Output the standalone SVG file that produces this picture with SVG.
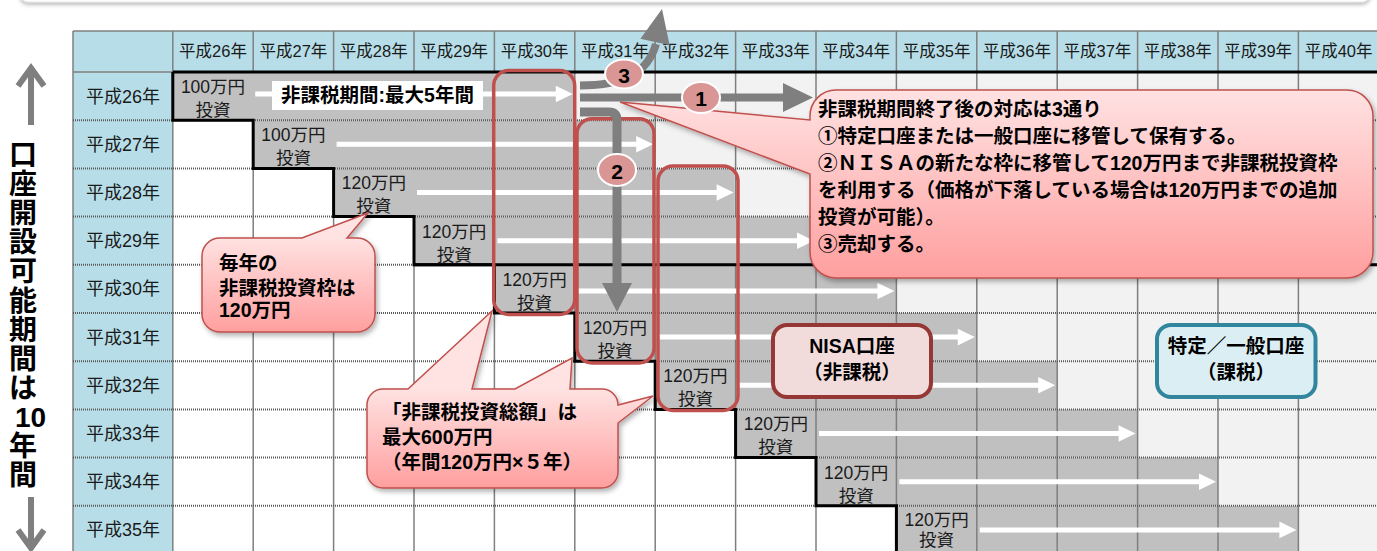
<svg xmlns="http://www.w3.org/2000/svg" width="1377" height="551" viewBox="0 0 1377 551">
<defs>
<style>
text{font-family:'Liberation Sans','Noto Sans CJK JP',sans-serif;fill:#1a1a1a}
.h{font-size:16.5px;text-anchor:middle}
.r{font-size:18px;text-anchor:middle}
.v{font-size:17.5px;text-anchor:middle}
.b{font-weight:bold;font-size:19.5px;fill:#000}
.c{text-anchor:middle}
.vl{font-weight:bold;font-size:28px;fill:#000;text-anchor:middle;dominant-baseline:central}
.n{font-weight:bold;font-size:21px;fill:#000;text-anchor:middle;dominant-baseline:central}
.vg{stroke:#7f7f7f;stroke-width:1.5}
.dt{stroke:#5a5a5a;stroke-width:2;stroke-dasharray:1 1}
.wa{fill:#fff}
.gy{fill:#c0c0c0}
.lt{fill:#f2f2f2}
.rb{fill:none;stroke:#c0504d;stroke-width:3.5}
.co{stroke:#c0504d;stroke-width:1.5}
.ga{fill:#7f7f7f}
.ci{fill:#d99694;stroke:#fff;stroke-width:2}
</style>
<filter id="ds" x="-10%" y="-10%" width="130%" height="140%"><feDropShadow dx="2" dy="3" stdDeviation="2.5" flood-color="#000" flood-opacity="0.3"/></filter>
<filter id="ts" x="-5%" y="-50%" width="110%" height="250%"><feDropShadow dx="0" dy="2" stdDeviation="2" flood-color="#000" flood-opacity="0.3"/></filter>
<linearGradient id="g1" gradientUnits="userSpaceOnUse" x1="0" y1="90" x2="0" y2="278"><stop offset="0" stop-color="#ffe2e2"/><stop offset="1" stop-color="#ff9f9f"/></linearGradient>
<linearGradient id="g2" gradientUnits="userSpaceOnUse" x1="0" y1="238" x2="0" y2="332"><stop offset="0" stop-color="#ffe2e2"/><stop offset="1" stop-color="#ff9f9f"/></linearGradient>
<linearGradient id="g3" gradientUnits="userSpaceOnUse" x1="0" y1="389" x2="0" y2="488"><stop offset="0" stop-color="#ffe2e2"/><stop offset="1" stop-color="#ff9f9f"/></linearGradient>
</defs>
<rect width="1377" height="551" fill="#fff"/>
<rect x="20" y="-40" width="1350" height="42" rx="8" fill="#fff" stroke="#e2e2e2" filter="url(#ts)"/>

<g id="table">
<rect x="73" y="72" width="1306" height="482" fill="#fff"/>
<rect x="73" y="31" width="1306" height="41" fill="#b7dee8"/>
<rect x="73" y="72" width="99.8" height="482" fill="#b7dee8"/>
<rect class="lt" x="574.8" y="72" width="804" height="48.2"/>
<rect class="lt" x="655.2" y="120.2" width="723.6" height="48.2"/>
<rect class="lt" x="735.6" y="168.4" width="643.2" height="48.2"/>
<rect class="lt" x="816" y="216.6" width="562.8" height="48.2"/>
<rect class="lt" x="896.4" y="264.8" width="482.4" height="48.2"/>
<rect class="lt" x="976.8" y="313" width="402" height="48.2"/>
<rect class="lt" x="1057.2" y="361.2" width="321.6" height="48.2"/>
<rect class="lt" x="1137.6" y="409.4" width="241.2" height="48.2"/>
<rect class="lt" x="1218" y="457.6" width="160.8" height="48.2"/>
<rect class="lt" x="1298.4" y="505.8" width="80.4" height="48.2"/>
<rect class="gy" x="494.4" y="264.8" width="402" height="48.2"/>
<rect class="gy" x="574.8" y="313" width="402" height="48.2"/>
<rect class="gy" x="655.2" y="361.2" width="402" height="48.2"/>
<rect class="gy" x="735.6" y="409.4" width="402" height="48.2"/>
<rect class="gy" x="816" y="457.6" width="402" height="48.2"/>
<rect class="gy" x="896.4" y="505.8" width="402" height="48.2"/>
<g class="vg">
<line x1="73" y1="31" x2="73" y2="551"/>
<line x1="172.8" y1="31" x2="172.8" y2="551"/>
<line x1="253.2" y1="31" x2="253.2" y2="551"/>
<line x1="333.6" y1="31" x2="333.6" y2="551"/>
<line x1="414" y1="31" x2="414" y2="551"/>
<line x1="494.4" y1="31" x2="494.4" y2="551"/>
<line x1="574.8" y1="31" x2="574.8" y2="551"/>
<line x1="655.2" y1="31" x2="655.2" y2="551"/>
<line x1="735.6" y1="31" x2="735.6" y2="551"/>
<line x1="816" y1="31" x2="816" y2="551"/>
<line x1="896.4" y1="31" x2="896.4" y2="551"/>
<line x1="976.8" y1="31" x2="976.8" y2="551"/>
<line x1="1057.2" y1="31" x2="1057.2" y2="551"/>
<line x1="1137.6" y1="31" x2="1137.6" y2="551"/>
<line x1="1218" y1="31" x2="1218" y2="551"/>
<line x1="1298.4" y1="31" x2="1298.4" y2="551"/>
<line x1="73" y1="31" x2="1377" y2="31"/>
<line x1="73" y1="72" x2="172.8" y2="72"/>
</g>
<rect class="gy" x="172.8" y="72" width="401.2" height="48.2"/>
<rect class="gy" x="253.2" y="120.2" width="401.2" height="48.2"/>
<rect class="gy" x="333.6" y="168.4" width="401.2" height="48.2"/>
<rect class="gy" x="414" y="216.6" width="401.2" height="48.2"/>
<g class="dt">
<line x1="73" y1="120.2" x2="1377" y2="120.2"/>
<line x1="73" y1="168.4" x2="1377" y2="168.4"/>
<line x1="73" y1="216.6" x2="1377" y2="216.6"/>
<line x1="73" y1="264.8" x2="1377" y2="264.8"/>
<line x1="73" y1="313" x2="1377" y2="313"/>
<line x1="73" y1="361.2" x2="1377" y2="361.2"/>
<line x1="73" y1="409.4" x2="1377" y2="409.4"/>
<line x1="73" y1="457.6" x2="1377" y2="457.6"/>
<line x1="73" y1="505.8" x2="1377" y2="505.8"/>
</g>
<g stroke="#000" stroke-width="3" fill="none">
<line x1="172.8" y1="72" x2="1377" y2="72"/>
<line x1="414" y1="264.8" x2="1377" y2="264.8"/>
<path d="M172.8,72 V120.2 H253.2 V168.4 H333.6 V216.6 H414 V264.8 H494.4 V313 H574.8 V361.2 H655.2 V409.4 H735.6 V457.6 H816 V505.8 H896.4 V554"/>
</g>
<g id="header">
<text class="h" x="213" y="57">平成26年</text>
<text class="h" x="293.4" y="57">平成27年</text>
<text class="h" x="373.8" y="57">平成28年</text>
<text class="h" x="454.2" y="57">平成29年</text>
<text class="h" x="534.6" y="57">平成30年</text>
<text class="h" x="615" y="57">平成31年</text>
<text class="h" x="695.4" y="57">平成32年</text>
<text class="h" x="775.8" y="57">平成33年</text>
<text class="h" x="856.2" y="57">平成34年</text>
<text class="h" x="936.6" y="57">平成35年</text>
<text class="h" x="1017" y="57">平成36年</text>
<text class="h" x="1097.4" y="57">平成37年</text>
<text class="h" x="1177.8" y="57">平成38年</text>
<text class="h" x="1258.2" y="57">平成39年</text>
<text class="h" x="1338.6" y="57">平成40年</text>
</g>
<g id="rowlabels">
<text class="r" x="123" y="102.6">平成26年</text>
<text class="r" x="123" y="150.8">平成27年</text>
<text class="r" x="123" y="199">平成28年</text>
<text class="r" x="123" y="247.2">平成29年</text>
<text class="r" x="123" y="295.4">平成30年</text>
<text class="r" x="123" y="343.6">平成31年</text>
<text class="r" x="123" y="391.8">平成32年</text>
<text class="r" x="123" y="440">平成33年</text>
<text class="r" x="123" y="488.2">平成34年</text>
<text class="r" x="123" y="536.4">平成35年</text>
</g>
</g>

<g id="investments">
<text class="v" x="213" y="93">100万円</text><text class="v" x="213" y="116">投資</text>
<text class="v" x="293.4" y="141.2">100万円</text><text class="v" x="293.4" y="164.2">投資</text>
<text class="v" x="373.8" y="189.4">120万円</text><text class="v" x="373.8" y="212.4">投資</text>
<text class="v" x="454.2" y="237.6">120万円</text><text class="v" x="454.2" y="260.6">投資</text>
<text class="v" x="534.6" y="285.8">120万円</text><text class="v" x="534.6" y="308.8">投資</text>
<text class="v" x="615" y="334">120万円</text><text class="v" x="615" y="357">投資</text>
<text class="v" x="695.4" y="382.2">120万円</text><text class="v" x="695.4" y="405.2">投資</text>
<text class="v" x="775.8" y="430.4">120万円</text><text class="v" x="775.8" y="453.4">投資</text>
<text class="v" x="856.2" y="478.6">120万円</text><text class="v" x="856.2" y="501.6">投資</text>
<text class="v" x="936.6" y="525.5">120万円</text><text class="v" x="936.6" y="545.5">投資</text>
</g>

<g id="connectors">
<g class="wa">
<path d="M255.2,91.5 H555.8 V85.7 L572.8,94 L555.8,102.3 V96.5 H255.2 Z"/>
<path d="M336.6,141.8 H636.2 V136 L653.2,144.3 L636.2,152.6 V146.8 H336.6 Z"/>
<path d="M417,190 H716.6 V184.2 L733.6,192.5 L716.6,200.8 V195 H417 Z"/>
<path d="M497.4,238.2 H797 V232.4 L814,240.7 L797,249 V243.2 H497.4 Z"/>
<path d="M577.8,288.5 H877.4 V282.7 L894.4,291 L877.4,299.3 V293.5 H577.8 Z"/>
<path d="M658.2,334.6 H957.8 V328.8 L974.8,337.1 L957.8,345.4 V339.6 H658.2 Z"/>
<path d="M738.6,382.8 H1038.2 V377 L1055.2,385.3 L1038.2,393.6 V387.8 H738.6 Z"/>
<path d="M819,431 H1118.6 V425.2 L1135.6,433.5 L1118.6,441.8 V436 H819 Z"/>
<path d="M899.4,479.2 H1199 V473.4 L1216,481.7 L1199,490 V484.2 H899.4 Z"/>
<path d="M979.8,527.4 H1279.4 V521.6 L1296.4,529.9 L1279.4,538.2 V532.4 H979.8 Z"/>
</g>
</g>

<g id="period-label">
<rect x="272" y="81" width="211" height="29" fill="#fff"/>
<text class="b c" x="377.5" y="102">非課税期間:最大5年間</text>
</g>

<g id="nisa-frames">
<rect id="frame-h30" class="rb" x="493.7" y="70.5" width="81" height="244" rx="15"/>
<rect id="frame-h31" class="rb" x="577" y="118.7" width="77" height="244.3" rx="15"/>
<rect id="frame-h32" class="rb" x="658" y="166" width="80" height="244.5" rx="15"/>
</g>

<g id="callout-main">
<path class="co" fill="url(#g1)" filter="url(#ds)" d="M836,90 H1347 A26,26 0 0 1 1373,116 V252 A26,26 0 0 1 1347,278 H836 A26,26 0 0 1 810,252 V174 L620,102 L810,120 V116 A26,26 0 0 1 836,90 Z"/>
<text class="b" x="818" y="116">非課税期間終了後の対応は3通り</text>
<text class="b" x="818" y="143">①特定口座または一般口座に移管して保有する。</text>
<text class="b" x="818" y="170">②ＮＩＳＡの新たな枠に移管して120万円まで非課税投資枠</text>
<text class="b" x="818" y="197">を利用する（価格が下落している場合は120万円までの追加</text>
<text class="b" x="818" y="224">投資が可能）。</text>
<text class="b" x="818" y="251">③売却する。</text>
</g>

<g id="callout-annual">
<path class="co" fill="url(#g2)" filter="url(#ds)" d="M220,238 H302 L368,213 L347,238 H357 A18,18 0 0 1 375,256 V314 A18,18 0 0 1 357,332 H220 A18,18 0 0 1 202,314 V256 A18,18 0 0 1 220,238 Z"/>
<text class="b" x="219" y="270">毎年の</text>
<text class="b" x="219" y="295">非課税投資枠は</text>
<text class="b" x="219" y="317">120万円</text>
</g>

<g id="callout-total">
<path class="co" fill="url(#g3)" filter="url(#ds)" d="M383,389 H408 L492,311 L472,389 H515 L572,358 L570,389 H602 A16,16 0 0 1 618,405 L653,396 L618,423 V472 A16,16 0 0 1 602,488 H383 A16,16 0 0 1 367,472 V405 A16,16 0 0 1 383,389 Z"/>
<text class="b" x="382" y="419">「非課税投資総額」は</text>
<text class="b" x="382" y="444">最大600万円</text>
<text class="b" x="382" y="469">（年間120万円×５年）</text>
</g>

<g id="options">
<g id="opt1">
<rect class="ga" x="580" y="93.5" width="204" height="8"/>
<polygon class="ga" points="783,83 813,97.5 783,112"/>
</g>
<g id="opt2">
<path d="M580,112 H609 Q617,112 617,120 V284" fill="none" stroke="#7f7f7f" stroke-width="9"/>
<polygon class="ga" points="602,283 632,283 617,312"/>
</g>
<g id="opt3">
<path d="M580,85.5 C625,85.5 648,72 656,44" fill="none" stroke="#7f7f7f" stroke-width="8"/>
<polygon class="ga" points="640.4,38.8 662,9 669.6,45.2"/>
</g>
<g id="badge3"><ellipse class="ci" cx="624" cy="74" rx="19" ry="14.5"/><text class="n" x="624" y="75">3</text></g>
<g id="badge1"><ellipse class="ci" cx="701" cy="97.5" rx="19" ry="15.5"/><text class="n" x="701" y="98.5">1</text></g>
<g id="badge2"><ellipse class="ci" cx="617" cy="170" rx="19" ry="16"/><text class="n" x="617" y="171">2</text></g>
</g>

<g id="nisa-box">
<rect x="773" y="325" width="158" height="72" rx="14" fill="#f2dcdb" stroke="#953735" stroke-width="4"/>
<text class="b c" x="852" y="353">NISA口座</text>
<text class="b c" x="852" y="379">（非課税）</text>
</g>
<g id="taxable-box">
<rect x="1157" y="325" width="158.5" height="72" rx="14" fill="#dbeef4" stroke="#31859c" stroke-width="4"/>
<text class="b c" x="1236" y="353">特定／一般口座</text>
<text class="b c" x="1236" y="379">（課税）</text>
</g>

<g id="side-label">
<g fill="none" stroke="#7f7f7f" stroke-width="6">
<path d="M31,125 V68"/>
<path d="M18,86 L31,68 L44,86"/>
<path d="M31,497 V548"/>
<path d="M18,530 L31,548 L44,530"/>
</g>
<text class="vl" x="23" y="155.5">口</text>
<text class="vl" x="23" y="184.6">座</text>
<text class="vl" x="23" y="213.7">開</text>
<text class="vl" x="23" y="242.8">設</text>
<text class="vl" x="23" y="271.9">可</text>
<text class="vl" x="23" y="301">能</text>
<text class="vl" x="23" y="330.1">期</text>
<text class="vl" x="23" y="359.2">間</text>
<text class="vl" x="23" y="388.3">は</text>
<text class="vl" x="30.5" y="417.4">10</text>
<text class="vl" x="23" y="446.5">年</text>
<text class="vl" x="23" y="475.6">間</text>
</g>
</svg>
